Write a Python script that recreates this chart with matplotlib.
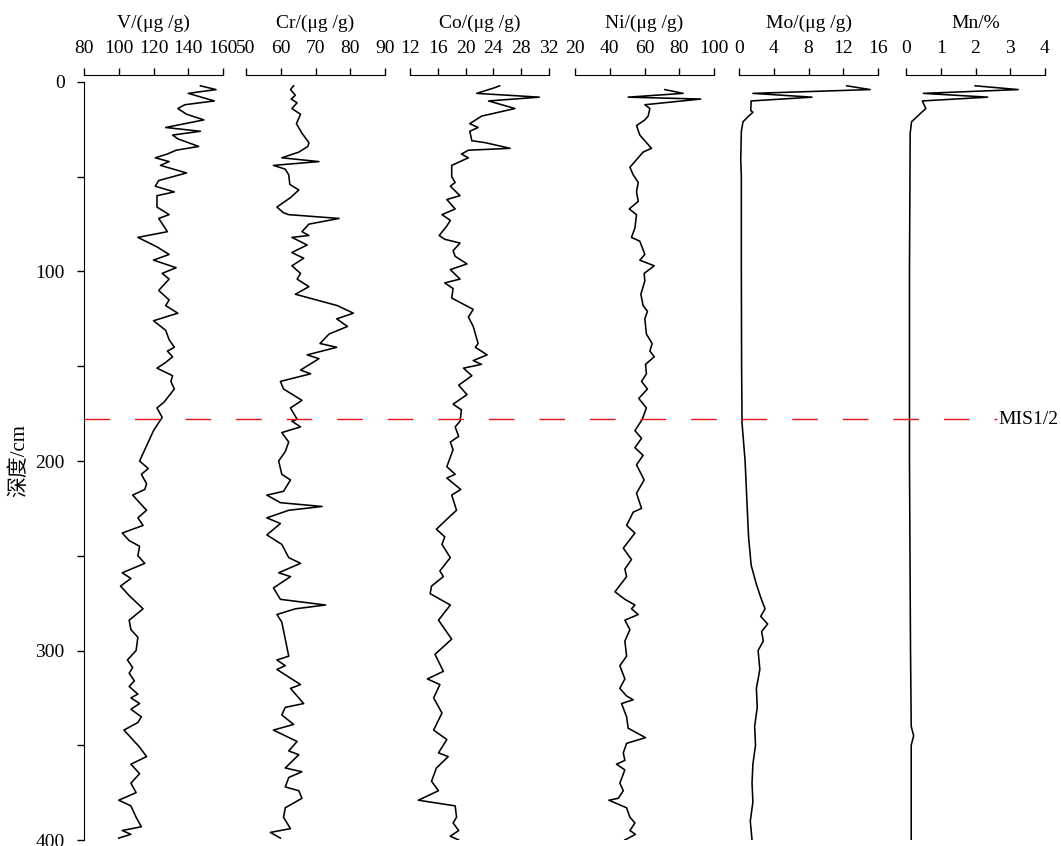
import matplotlib
matplotlib.use('Agg')
import matplotlib.pyplot as plt
from matplotlib.lines import Line2D
from matplotlib.transforms import blended_transform_factory
from matplotlib.ticker import MultipleLocator

plt.rcParams['font.family'] = ['Liberation Serif', 'Noto Sans CJK SC']
plt.rcParams['font.size'] = 14

# Datos (profundidad en cm)
V_depth = [2, 4, 6, 10, 12, 14, 17, 20, 24, 26,
           28, 30, 34, 36, 38, 40, 42, 44, 48, 52,
           55, 58, 60, 66, 70, 72, 79, 82, 87, 91,
           94, 98, 101, 104, 110, 115, 118, 122, 126, 131,
           136, 140, 142, 145, 148, 151, 155, 158, 162, 169,
           172, 177, 184,
           190, 194, 200, 204, 207, 212, 215, 218, 226, 230,
           234, 238, 242, 245, 250, 254, 259, 262, 266, 271,
           278, 284, 289, 293, 300, 305, 309, 312, 316, 319,
           323, 325, 328, 331, 335, 338, 342, 347, 351, 356,
           360, 365, 370, 375, 379, 382, 388, 393, 395, 397,
           399]
V_val = [147, 156, 140, 155, 138, 134, 139, 149, 127, 147,
         131, 134, 146, 133, 128, 121, 129, 124, 139, 123,
         121, 132, 122, 122, 129, 123, 128, 111, 122, 129,
         120, 133, 125, 129, 123, 129, 127, 134, 120, 127,
         129, 132, 128, 131, 127, 122, 131, 130, 132, 126,
         122, 125, 120,
         117, 115, 112, 117, 113, 116, 115, 108, 116, 111,
         114, 102, 106, 112, 111, 115, 102, 107, 101, 106,
         114, 106, 107, 111, 110, 105, 108, 106, 109, 106,
         111, 107, 112, 107, 113, 111, 103, 108, 112, 116,
         107, 112, 107, 110, 100, 107, 110, 113, 102, 107,
         100]

Cr_depth = [2, 4, 7, 9, 11, 14, 17, 22, 27, 32,
            34, 37, 40, 42, 44, 46, 49, 54, 57, 61,
            66, 69, 70, 72, 75, 79, 81, 82, 86, 90,
            93, 97, 101, 104, 108, 112, 118, 122, 125, 129,
            133, 138, 140, 144, 146, 152, 154, 158, 162, 168,
            172, 178, 179, 182, 185, 190, 195, 200, 207, 210,
            216, 218, 222, 224, 226, 230, 233, 239, 244, 251,
            254, 259, 261, 267, 273, 276, 278, 281, 285, 294,
            303, 305, 308, 310, 318, 320, 328, 330, 334, 339,
            342, 348, 353, 355, 362, 364, 367, 372, 374, 378,
            383, 388, 394, 396, 399]
Cr_val = [63.7, 62.8, 64.2, 63.0, 64.7, 63.2, 65.7, 64.5, 66.1, 68.1,
          67.8, 65.2, 60.3, 71.0, 57.9, 61.3, 62.3, 62.6, 65.2, 62.8,
          58.9, 60.8, 62.3, 76.8, 68.1, 66.1, 68.1, 63.2, 67.6, 63.2,
          66.6, 63.2, 65.7, 64.7, 68.1, 64.2, 76.3, 80.9, 76.1, 79.2,
          73.9, 71.3, 76.1, 67.6, 71.0, 65.7, 68.6, 59.9, 60.8, 66.1,
          62.8, 64.7, 63.2, 65.7, 60.3, 62.3, 61.3, 59.4, 60.3, 62.8,
          60.8, 56.0, 59.9, 71.9, 62.3, 56.0, 59.9, 56.0, 60.3, 62.3,
          65.7, 59.4, 62.8, 57.9, 59.9, 72.9, 64.2, 58.9, 60.3, 61.3,
          62.3, 58.9, 61.3, 58.9, 65.7, 62.8, 66.6, 61.3, 60.3, 63.7,
          57.9, 64.7, 62.3, 65.2, 61.3, 66.1, 62.3, 61.3, 65.2, 66.1,
          61.3, 60.8, 62.8, 57.0, 59.9]

Co_depth = [2, 3, 6, 8, 10, 14, 17, 18, 22, 24,
            26, 31, 32, 35, 36, 38, 40, 44, 50, 53,
            55, 60, 62, 67, 70, 73, 76, 81, 83, 85,
            89, 92, 96, 99, 104, 106, 109, 114, 120, 124,
            129, 138, 140, 144, 147, 149, 151, 155, 160, 165,
            170, 173, 179, 182, 187, 190, 194, 203, 207, 209,
            215, 218, 226, 229, 236, 240, 244, 251, 258, 261,
            266, 270, 276, 284, 294, 302, 311, 315, 318, 325,
            333, 342, 347, 354, 356, 362, 369, 374, 379, 382,
            388, 391, 395, 398, 400]
Co_val = [24.9, 24.2, 21.6, 30.6, 23.3, 27.1, 23.5, 22.3, 20.6, 21.8,
          20.6, 20.9, 22.8, 26.4, 20.4, 19.4, 20.4, 18.0, 18.0, 18.5,
          17.8, 19.2, 17.3, 18.5, 16.6, 17.8, 17.3, 16.2, 17.0, 19.2,
          18.2, 18.5, 20.2, 17.8, 19.2, 17.0, 18.2, 18.0, 21.1, 20.4,
          21.1, 21.8, 21.4, 23.1, 21.1, 22.3, 19.7, 20.9, 19.0, 20.2,
          18.2, 19.4, 19.2, 18.5, 19.0, 17.8, 18.2, 17.3, 18.5, 17.3,
          19.3, 18.0, 18.7, 17.8, 15.8, 17.0, 16.6, 17.8, 16.3, 16.8,
          15.1, 14.9, 17.8, 16.1, 18.0, 15.6, 16.8, 14.5, 16.3, 15.4,
          16.6, 15.4, 17.3, 16.1, 17.5, 15.8, 15.1, 16.1, 13.2, 18.5,
          18.7, 18.2, 19.0, 17.8, 19.0]

Ni_depth = [4, 6, 8, 9, 12, 14, 18, 20, 23, 28,
            35, 37, 41, 45, 49, 53, 58, 63, 67, 70,
            77, 82, 84, 91, 94, 97, 101, 105, 112, 118,
            121, 125, 133, 138, 142, 145, 149, 154, 158, 162,
            167, 172, 178, 184, 188, 193, 197, 202, 210, 217,
            225, 227, 234, 238, 246, 252, 257, 261, 269, 273,
            276, 278, 281, 284, 289, 295, 303, 308, 315, 320,
            324, 326, 328, 335, 341, 346, 349, 354, 358, 360,
            363, 370, 374, 378, 379, 383, 388, 391, 395, 397,
            400]
Ni_val = [71.7, 82.2, 50.6, 92.3, 60.2, 63.1, 62.1, 60.2, 55.4, 57.3,
          64.0, 59.2, 55.4, 51.6, 53.5, 56.4, 55.4, 56.4, 51.2, 55.4,
          54.5, 52.5, 57.3, 60.2, 57.3, 65.6, 59.8, 60.2, 57.9, 59.2,
          61.7, 60.2, 61.1, 64.4, 63.1, 65.6, 60.6, 61.1, 58.3, 61.7,
          56.7, 61.1, 58.7, 54.5, 58.3, 54.5, 59.2, 55.4, 59.8, 55.4,
          58.3, 53.5, 49.7, 54.5, 47.8, 52.5, 48.7, 49.7, 43.0, 48.7,
          54.5, 52.5, 56.4, 48.7, 51.6, 48.7, 49.7, 45.8, 48.7, 45.8,
          49.7, 53.5, 46.8, 49.7, 50.6, 60.6, 49.7, 47.8, 48.7, 43.9,
          48.7, 45.8, 47.8, 44.9, 39.5, 49.7, 51.6, 54.5, 51.6, 54.8,
          48.7]

Mo_depth = [2, 4, 6, 8, 10, 15, 16, 18, 21, 26,
            41, 50, 100, 150, 180, 200, 220, 240, 255, 265,
            272, 278, 282, 286, 290, 295, 300, 310, 320, 330,
            340, 350, 360, 370, 380, 390, 400]
Mo_val = [12.4, 15.1, 1.6, 8.4, 1.4, 1.35, 1.6, 1.1, 0.46, 0.27,
          0.2, 0.27, 0.27, 0.3, 0.35, 0.7, 0.9, 1.1, 1.4, 2.0,
          2.5, 3.0, 2.5, 3.3, 2.6, 2.8, 2.2, 2.4, 2.0, 2.1,
          1.8, 1.9, 1.6, 1.5, 1.6, 1.3, 1.5]

Mn_depth = [2, 4, 6, 8, 10, 14, 16, 21, 27, 100,
            200, 300, 340, 345, 350, 400]
Mn_val = [1.99, 3.23, 0.5, 2.35, 0.47, 0.57, 0.45, 0.16, 0.12, 0.1,
          0.1, 0.13, 0.15, 0.22, 0.15, 0.15]

titles = ['V/(μg /g)', 'Cr/(μg /g)', 'Co/(μg /g)', 'Ni/(μg /g)', 'Mo/(μg /g)', 'Mn/%']
xlims = [(80, 160), (50, 90), (12, 32), (20, 100), (0, 16), (0, 4)]
xticks = [[80, 100, 120, 140, 160], [50, 60, 70, 80, 90], [12, 16, 20, 24, 28, 32],
          [20, 40, 60, 80, 100], [0, 4, 8, 12, 16], [0, 1, 2, 3, 4]]
series = [(V_depth, V_val), (Cr_depth, Cr_val), (Co_depth, Co_val),
          (Ni_depth, Ni_val), (Mo_depth, Mo_val), (Mn_depth, Mn_val)]
mis_depth = 178

W, H = 1061, 846
fig = plt.figure(figsize=(W / 100, H / 100), dpi=100)

lefts = [84, 246, 410, 575, 739, 906]
axs = []
for i, left in enumerate(lefts):
    ax = fig.add_axes([left / W, 6 / H, 139 / W, 758 / H])
    d, v = series[i]
    ax.plot(v, d, color='black', lw=1.15)
    ax.set_xlim(*xlims[i])
    ax.set_ylim(400, 0)
    ax.set_xticks(xticks[i])
    ax.xaxis.tick_top()
    ax.xaxis.set_label_position('top')
    ax.set_xlabel(titles[i], labelpad=9)
    ax.tick_params(axis='x', direction='out', length=5, width=1, pad=8)
    ax.spines['top'].set_position(('outward', 5))
    ax.spines['right'].set_visible(False)
    ax.spines['bottom'].set_visible(False)
    if i == 0:
        ax.set_yticks([0, 100, 200, 300, 400])
        ax.yaxis.set_minor_locator(MultipleLocator(50))
        ax.tick_params(axis='y', which='both', direction='out', length=5, width=1, pad=9)
        ax.set_ylabel('深度/cm', labelpad=4, fontsize=15)
    else:
        ax.spines['left'].set_visible(False)
        ax.set_yticks([])
    axs.append(ax)

# Linea discontinua del limite MIS1/2
tr = blended_transform_factory(fig.transFigure, axs[0].transData)
fig.add_artist(Line2D([84 / W, 997 / W], [mis_depth, mis_depth], transform=tr,
                      color='#e8141b', lw=1.0, linestyle=(0, (18.4, 18))))
fig.text(998 / W, mis_depth, 'MIS1/2', transform=tr, ha='left', va='center', fontsize=14)

fig.savefig('out.png', dpi=100)
